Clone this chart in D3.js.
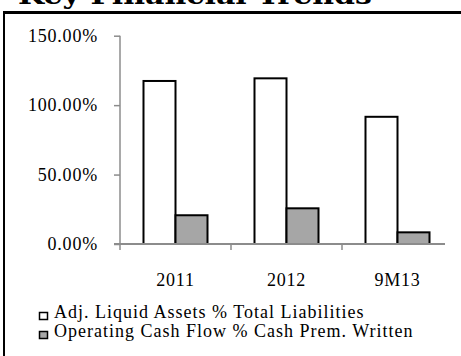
<!DOCTYPE html>
<html>
<head>
<meta charset="utf-8">
<script src="https://cdn.jsdelivr.net/npm/d3@7.9.0/dist/d3.min.js"></script>
<style>
  body { margin: 0; background: #fff; }
  svg { display: block; }
  text { font-family: "Liberation Serif", "Times New Roman", serif; fill: #000; }
</style>
</head>
<body>
<svg id="chart" width="461" height="356"></svg>
<script>
// Data
const categories = ["2011", "2012", "9M13"];
const seriesNames = ["Adj. Liquid Assets % Total Liabilities", "Operating Cash Flow % Cash Prem. Written"];
const liquidAssets = [1.174, 1.193, 0.916];
const operatingCashFlow = [0.207, 0.257, 0.084];
const yTicks = [0, 0.5, 1, 1.5];

const seriesFill = ["#ffffff", "#a6a6a6"];
const axisColor = "#8c8c8c";

const svg = d3.select("#chart");

// Title, clipped at the top of the page as in the reference
svg.append("text")
  .attr("x", 18)
  .attr("y", 4)
  .attr("textLength", 354)
  .attr("lengthAdjust", "spacingAndGlyphs")
  .style("font-family", "'DejaVu Serif', serif")
  .style("font-weight", "bold")
  .style("font-size", "26px")
  .text("Key Financial Trends");

// Frame lines
svg.append("line")
  .attr("x1", 3).attr("x2", 461).attr("y1", 12.5).attr("y2", 12.5)
  .attr("stroke", "#000").attr("stroke-width", 3);
svg.append("line")
  .attr("x1", 4).attr("x2", 4).attr("y1", 11).attr("y2", 356)
  .attr("stroke", "#000").attr("stroke-width", 2);

// Scales
const y = d3.scaleLinear().domain([0, 1.5]).range([244, 35.7]);

const x = d3.scaleBand()
  .domain(categories)
  .range([120, 453])
  .paddingInner(0.4234)
  .paddingOuter(0.2117);

const xEdges = d3.scaleBand().domain(categories).range([120, 453]).padding(0);

const xs = d3.scaleBand()
  .domain(seriesNames)
  .range([0, x.bandwidth()]);

// Y axis
const yAxis = svg.append("g")
  .attr("transform", "translate(120,0)")
  .call(d3.axisLeft(y).tickValues(yTicks).tickFormat(d3.format(".2%")).tickSize(6).tickPadding(16));
yAxis.select(".domain").remove();
yAxis.selectAll(".tick line").attr("stroke", axisColor).attr("stroke-width", 1.5);
yAxis.selectAll(".tick text")
  .style("font-family", "'Liberation Serif', serif")
  .style("font-size", "18px")
  .style("letter-spacing", "0.8px")
  .attr("fill", "#000");
svg.append("line")
  .attr("x1", 120).attr("x2", 120).attr("y1", y(1.5)).attr("y2", y(0) + 6)
  .attr("stroke", axisColor).attr("stroke-width", 1.5);

// Bars
const rows = categories.map((c, i) => ({ cat: c, values: [liquidAssets[i], operatingCashFlow[i]] }));

const groups = svg.append("g").selectAll("g")
  .data(rows)
  .join("g")
  .attr("transform", d => `translate(${x(d.cat)},0)`);

groups.selectAll("rect")
  .data(d => d.values.map((v, j) => ({ name: seriesNames[j], value: v, j })))
  .join("rect")
  .attr("x", d => xs(d.name))
  .attr("width", xs.bandwidth())
  .attr("y", d => y(d.value))
  .attr("height", d => y(0) - y(d.value))
  .attr("fill", d => seriesFill[d.j])
  .attr("stroke", "#000")
  .attr("stroke-width", 2);

// X axis line and tick marks between categories
svg.append("line")
  .attr("x1", 114).attr("x2", 445).attr("y1", y(0)).attr("y2", y(0))
  .attr("stroke", axisColor).attr("stroke-width", 2);

svg.append("g").selectAll("line")
  .data(categories.slice(1))
  .join("line")
  .attr("x1", d => xEdges(d)).attr("x2", d => xEdges(d))
  .attr("y1", y(0)).attr("y2", y(0) + 6)
  .attr("stroke", axisColor).attr("stroke-width", 1.5);

// Category labels
svg.append("g").selectAll("text")
  .data(categories)
  .join("text")
  .attr("x", d => x(d) + x.bandwidth() / 2)
  .attr("y", 286)
  .attr("text-anchor", "middle")
  .style("font-size", "18px")
  .style("letter-spacing", "0.8px")
  .text(d => d);

// Legend
const legend = svg.append("g").selectAll("g")
  .data(seriesNames)
  .join("g")
  .attr("transform", (d, i) => `translate(0,${i * 19})`);

legend.append("rect")
  .attr("x", 39.5).attr("y", 312.5)
  .attr("width", 8).attr("height", 7)
  .attr("fill", (d, i) => seriesFill[i])
  .attr("stroke", "#000")
  .attr("stroke-width", 1.5);

legend.append("text")
  .attr("x", 54)
  .attr("y", 317.5)
  .style("font-size", "18px")
  .style("letter-spacing", "1px")
  .text(d => d);
</script>
</body>
</html>
